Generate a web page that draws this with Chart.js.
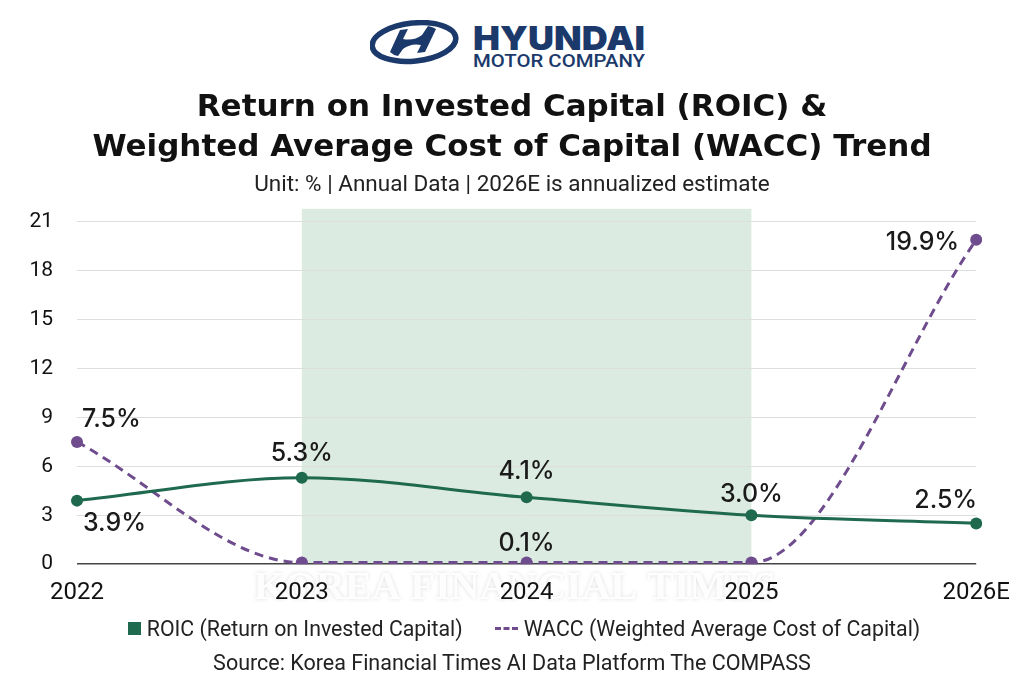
<!DOCTYPE html>
<html>
<head>
<meta charset="utf-8">
<script src="https://cdn.jsdelivr.net/npm/chart.js@4.4.1/dist/chart.umd.min.js"></script>
<style>
  html, body { margin: 0; padding: 0; background: #fff; }
  body { width: 1024px; height: 687px; position: relative; overflow: hidden; font-family: Roboto, sans-serif; color: #222; }
  #logo { position: absolute; left: 370px; top: 20px; }
  #wrap { position: absolute; left: 0; top: 78px; width: 1024px; height: 543px; }
  #legenda { position: absolute; left: 12px; width: 1024px; top: 615px; height: 26px; display: flex; justify-content: center; align-items: center; font-size: 21.3px; }
  #legenda .item { display: flex; align-items: center; margin: 0 16px; }
  #legenda .quad { width: 13px; height: 13px; margin-right: 6px; }
  #legenda .traco { width: 23px; height: 0; border-top: 3px dashed; margin-right: 6px; }
  #fonte { position: absolute; left: 0; width: 1024px; top: 650px; text-align: center; font-size: 21.5px; }
</style>
</head>
<body>
<svg id="logo" width="290" height="56" viewBox="0 0 290 56">
  <ellipse cx="44" cy="22" rx="42" ry="19" transform="rotate(-6 44 22)" fill="none" stroke="#1b3a6b" stroke-width="5.5"/>
  <path d="M30 10 L38 9 L33 19 Q44 21 52 15 L58 6 Q63 7 66 9 L55 32 L47 33 L51 25 Q41 23 33 29 L28 36 Q23 35 20 32 Z" fill="#1b3a6b"/>
  <text x="103" y="30" font-family="Inter, sans-serif" font-size="33" font-weight="900" fill="#1b3a6b" textLength="172" lengthAdjust="spacingAndGlyphs">HYUNDAI</text>
  <text x="103" y="47" font-family="Roboto, sans-serif" font-size="18" font-weight="500" fill="#1b3a6b" textLength="172" lengthAdjust="spacingAndGlyphs">MOTOR COMPANY</text>
</svg>
<div id="wrap"><canvas id="grafico"></canvas></div>
<div id="legenda"></div>
<div id="fonte">Source: Korea Financial Times AI Data Platform The COMPASS</div>
<script>
// dados
const anos = ["2022", "2023", "2024", "2025", "2026E"];
const roic = [3.9, 5.3, 4.1, 3.0, 2.5];
const wacc = [7.5, 0.1, 0.1, 0.1, 19.9];
const mostrarWacc = [true, false, true, false, true];
const ticksY = [0, 3, 6, 9, 12, 15, 18, 21];
const faixaInicio = "2023";
const faixaFim = "2025";

const VERDE = "#1f6a4f";
const ROXO = "#6e4c8d";

// posição dos rótulos (dx, dy, alinhamento)
const posRoic = [[6, 23, "left"], [0, -24, "center"], [0, -26, "center"], [0, -21, "center"], [1, -23, "right"]];
const posWacc = [[5, -22, "left"], [0, -19, "center"], [0, -19, "center"], [0, -19, "center"], [-17, 3, "right"]];

/* --- Faixa sombreada 2023-2025 --- */
const faixa = {
  id: "faixa",
  beforeDraw(chart) {
    const { ctx, scales: { x, y }, chartArea } = chart;
    const x1 = x.getPixelForValue(anos.indexOf(faixaInicio));
    const x2 = x.getPixelForValue(anos.indexOf(faixaFim));
    const y0 = y.getPixelForValue(0);
    ctx.save();
    ctx.fillStyle = "#dcebe2";
    ctx.fillRect(x1, chartArea.top, x2 - x1, y0 - chartArea.top);
    ctx.restore();
  }
};

/* --- Marca d'água (por baixo dos eixos) --- */
const marca = {
  id: "marca",
  beforeDraw(chart) {
    const { ctx, chartArea } = chart;
    ctx.save();
    ctx.font = "bold 40px 'Liberation Serif', serif";
    ctx.fillStyle = "rgba(255,255,255,0.92)";
    ctx.shadowColor = "rgba(0,0,0,0.15)";
    ctx.shadowBlur = 4;
    ctx.textAlign = "center";
    ctx.textBaseline = "middle";
    ctx.fillText("KOREA FINANCIAL TIMES", 515, chartArea.bottom + 24);
    ctx.restore();
  }
};

/* --- Rótulos de valores --- */
const rotulos = {
  id: "rotulos",
  afterDatasetsDraw(chart) {
    const { ctx } = chart;
    ctx.save();
    ctx.font = "500 25px Inter, sans-serif";
    ctx.fillStyle = "#1a1a1a";
    ctx.textBaseline = "middle";
    chart.data.datasets.forEach((ds, i) => {
      const meta = chart.getDatasetMeta(i);
      const pos = i === 0 ? posRoic : posWacc;
      meta.data.forEach((pt, j) => {
        if (i === 1 && !mostrarWacc[j]) return;
        const [dx, dy, al] = pos[j];
        ctx.textAlign = al;
        ctx.fillText(ds.data[j].toFixed(1) + "%", pt.x + dx, pt.y + dy);
      });
    });
    ctx.restore();
  }
};

const ctx = document.getElementById("grafico").getContext("2d");

const grafico = new Chart(ctx, {
  type: "line",
  data: {
    labels: anos,
    datasets: [
      {
        label: "ROIC (Return on Invested Capital)",
        data: roic,
        borderColor: VERDE,
        backgroundColor: VERDE,
        borderWidth: 3,
        pointRadius: 6,
        pointBackgroundColor: VERDE,
        pointBorderWidth: 0,
        cubicInterpolationMode: "monotone"
      },
      {
        label: "WACC (Weighted Average Cost of Capital)",
        data: wacc,
        borderColor: ROXO,
        backgroundColor: ROXO,
        borderWidth: 3,
        borderDash: [9, 6],
        pointRadius: 6,
        pointBackgroundColor: ROXO,
        pointBorderWidth: 0,
        cubicInterpolationMode: "monotone"
      }
    ]
  },
  options: {
    responsive: true,
    maintainAspectRatio: false,
    animation: false,
    layout: { padding: 0 },
    plugins: {
      title: {
        display: true,
        text: ["Return on Invested Capital (ROIC) &", "Weighted Average Cost of Capital (WACC) Trend"],
        font: { family: "'DejaVu Sans'", size: 31, weight: "bold", lineHeight: 1.32 },
        color: "#111",
        padding: { top: 9, bottom: 0 }
      },
      subtitle: {
        display: true,
        text: "Unit: % | Annual Data | 2026E is annualized estimate",
        font: { family: "Roboto", size: 22.5 },
        color: "#222",
        padding: { top: 3, bottom: 10 }
      },
      legend: { display: false },
      tooltip: { enabled: false }
    },
    scales: {
      x: {
        grid: { display: false, drawTicks: false },
        border: { display: false },
        ticks: { color: "#111", font: { family: "Roboto", size: 24 }, padding: 14, maxRotation: 0 }
      },
      y: {
        min: 0,
        max: 21.8,
        afterBuildTicks: (axis) => { axis.ticks = ticksY.map(v => ({ value: v })); },
        afterFit: (axis) => { axis.width = 77; },
        grid: {
          drawTicks: false,
          color: (c) => c.tick && c.tick.value === 0 ? "#444" : "#dedede",
          lineWidth: (c) => c.tick && c.tick.value === 0 ? 1.5 : 1
        },
        border: { display: false },
        ticks: { color: "#111", font: { family: "Roboto", size: 21 }, padding: 24 }
      },
      // eixo vazio só para reservar a margem direita
      margem: {
        position: "right",
        min: 0,
        max: 21.8,
        grid: { display: false, drawTicks: false },
        border: { display: false },
        ticks: { display: false },
        afterFit: (axis) => { axis.width = 47; }
      }
    }
  },
  plugins: [faixa, marca, rotulos]
});

/* --- Legenda a partir dos datasets --- */
const legenda = document.getElementById("legenda");
grafico.data.datasets.forEach((ds, i) => {
  const item = document.createElement("span");
  item.className = "item";
  const marcador = document.createElement("span");
  if (ds.borderDash) {
    marcador.className = "traco";
    marcador.style.borderColor = ds.borderColor;
  } else {
    marcador.className = "quad";
    marcador.style.background = ds.borderColor;
  }
  item.appendChild(marcador);
  item.appendChild(document.createTextNode(ds.label));
  legenda.appendChild(item);
});
</script>
</body>
</html>
